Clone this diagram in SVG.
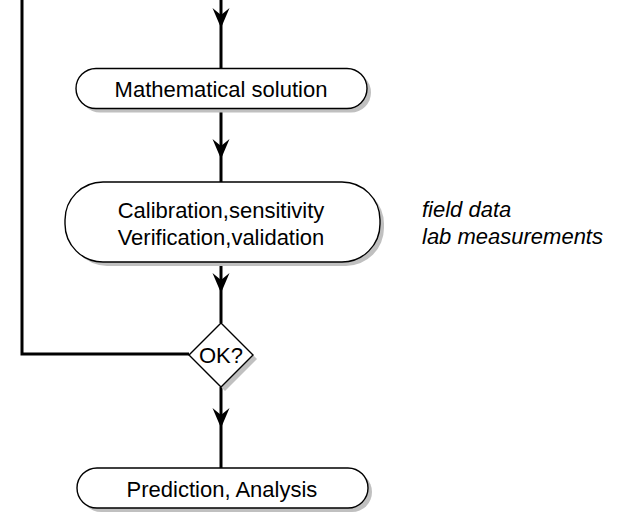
<svg xmlns="http://www.w3.org/2000/svg" width="620" height="529" viewBox="0 0 620 529">
<defs>
<style>
.box{fill:#fff;stroke:#000;stroke-width:1.4}
.sh{fill:#c0c0c0;stroke:none}
.ln{fill:none;stroke:#000;stroke-width:3}
.t{font-family:"Liberation Sans",Arial,sans-serif;font-size:22px;fill:#000;text-anchor:middle}
.it{font-family:"Liberation Sans",Arial,sans-serif;font-size:22px;font-style:italic;fill:#000}
</style>
<path id="ah" d="M0,0 L-8.5,-20 L0,-13 L8.5,-20 Z" fill="#000"/>
</defs>
<g id="connectors">
<line class="ln" x1="221" y1="0" x2="221" y2="68"/>
<line class="ln" x1="221" y1="109" x2="221" y2="182"/>
<line class="ln" x1="221" y1="262" x2="221" y2="323"/>
<line class="ln" x1="221" y1="387" x2="221" y2="468"/>
<polyline class="ln" points="22,0 22,354 189,354"/>
<use href="#ah" x="221" y="28"/>
<use href="#ah" x="221" y="159"/>
<use href="#ah" x="221" y="293"/>
<use href="#ah" x="221" y="428"/>
</g>
<g id="math">
<rect class="sh" x="80" y="72.5" width="291" height="40" rx="20" ry="20"/>
<rect class="box" x="76" y="68.5" width="291" height="40" rx="20" ry="20"/>
<text class="t" x="221" y="97">Mathematical solution</text>
</g>
<g id="calibration">
<rect class="sh" x="69" y="186" width="315" height="80" rx="38" ry="38"/>
<rect class="box" x="65" y="182" width="315" height="80" rx="38" ry="38"/>
<text class="t" x="221" y="218">Calibration,sensitivity</text>
<text class="t" x="221" y="245">Verification,validation</text>
</g>
<g id="notes">
<text class="it" x="422" y="217">field data</text>
<text class="it" x="422" y="244">lab measurements</text>
</g>
<g id="ok">
<polygon class="sh" points="225,327 257,359 225,391 193,359"/>
<polygon class="box" points="221,323 253,355 221,387 189,355"/>
<text class="t" x="221" y="363">OK?</text>
</g>
<g id="prediction">
<rect class="sh" x="81" y="472" width="291" height="40" rx="20" ry="20"/>
<rect class="box" x="77" y="468" width="291" height="40" rx="20" ry="20"/>
<text class="t" x="222" y="497">Prediction, Analysis</text>
</g>
</svg>
